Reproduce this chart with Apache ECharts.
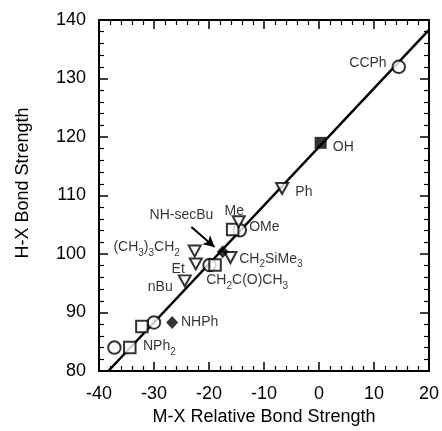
<!DOCTYPE html>
<html><head><meta charset="utf-8">
<script src="https://cdn.jsdelivr.net/npm/echarts@6/dist/echarts.min.js"></script>
<style>html,body{margin:0;padding:0;background:#fff}#c{width:442px;height:431px}</style>
</head><body><div id="c"></div>
<script>
// Data
const circleX = [14.5, -14.4, -19.9, -30.0, -37.2];
const circleY = [132.0, 104.05, 98.1, 88.3, 84.0];
const squareX = [-15.7, -18.9, -32.2, -34.4];
const squareY = [104.2, 98.1, 87.6, 84.0];
const triX = [-6.7, -14.6, -16.1, -22.6, -22.4, -24.4];
const triY = [111.2, 105.5, 99.4, 100.5, 98.3, 95.4];
const fsqX = [0.3];
const fsqY = [119.0];
const diaX = [-17.5, -26.7];
const diaY = [100.4, 88.3];
const fitX = [-38.3, 20];
const fitY = [80, 138.3];
const arrowX = [-23.2, -19.0];
const arrowY = [104.6, 101.2];
const labelText = ['CCPh', 'OH', 'Ph', 'Me', 'OMe', 'NH-secBu', '(CH{s|3}){s|3}CH{s|2}', 'Et', 'nBu', 'CH{s|2}SiMe{s|3}', 'CH{s|2}C(O)CH{s|3}', 'NHPh', 'NPh{s|2}'];
const labelX = [12.3, 2.5, -4.3, -15.4, -12.7, -25.0, -25.3, -24.4, -26.6, -14.5, -20.5, -25.1, -32.0];
const labelY = [132.7, 118.2, 110.5, 107.3, 104.6, 106.6, 101.2, 97.4, 94.4, 99.2, 95.5, 88.4, 84.2];
const labelAlign = ['right', 'left', 'left', 'center', 'left', 'center', 'right', 'right', 'right', 'left', 'left', 'left', 'left'];
const xTicks = {min: -40, max: 20, interval: 10};
const yTicks = {min: 80, max: 140, interval: 10};
const xTitle = 'M-X Relative Bond Strength';
const yTitle = 'H-X Bond Strength';

const FONT = "'Liberation Sans', Arial, Helvetica, sans-serif";
const zip = (a, b) => a.map((v, i) => [v, b[i]]);

function axisCommon(showLabel, margin) {
  return {
    axisLine: {show: true, onZero: false, lineStyle: {color: '#000', width: 2}},
    axisTick: {show: true, inside: true, length: 9, lineStyle: {color: '#000', width: 1.5}},
    minorTick: {show: true, splitNumber: 5, length: 5, lineStyle: {color: '#000', width: 1.2}},
    splitLine: {show: false},
    axisLabel: {show: showLabel, color: '#000', fontSize: 18, fontFamily: FONT, margin: margin || 12},
  };
}

const markerBase = {type: 'scatter', z: 5, itemStyle: {color: '#fff', borderColor: '#000', borderWidth: 2}};

const option = {
  animation: false,
  backgroundColor: '#fff',
  grid: {left: 99, right: 11, top: 20, bottom: 60},
  graphic: [{type: 'text', x: 23, y: 183, rotation: Math.PI / 2,
    style: {text: yTitle, fill: '#000', fontSize: 18, fontFamily: FONT, align: 'center', verticalAlign: 'middle'}}],
  xAxis: [
    Object.assign({type: 'value', position: 'bottom', min: xTicks.min, max: xTicks.max, interval: xTicks.interval,
      name: xTitle, nameLocation: 'middle', nameGap: 37,
      nameTextStyle: {color: '#000', fontSize: 18, fontFamily: FONT}}, axisCommon(true, 14)),
    Object.assign({type: 'value', position: 'top', min: xTicks.min, max: xTicks.max, interval: xTicks.interval}, axisCommon(false))
  ],
  yAxis: [
    Object.assign({type: 'value', position: 'left', min: yTicks.min, max: yTicks.max, interval: yTicks.interval}, axisCommon(true, 13)),
    Object.assign({type: 'value', position: 'right', min: yTicks.min, max: yTicks.max, interval: yTicks.interval}, axisCommon(false))
  ],
  series: [
    {type: 'line', data: zip(fitX, fitY), symbol: 'none', z: 2, lineStyle: {color: '#000', width: 2.5}},
    {type: 'line', data: zip(arrowX, arrowY), symbol: 'none', z: 3, lineStyle: {width: 0},
      markLine: {silent: true, symbol: ['none', 'arrow'], symbolSize: [9, 11], label: {show: false},
        lineStyle: {color: '#000', width: 2, type: 'solid'},
        data: [[{coord: [arrowX[0], arrowY[0]]}, {coord: [arrowX[1], arrowY[1]]}]]}},
    Object.assign({}, markerBase, {data: zip(circleX, circleY), symbol: 'circle', symbolSize: 12.5}),
    Object.assign({}, markerBase, {data: zip(squareX, squareY), symbol: 'rect', symbolSize: 11.5}),
    Object.assign({}, markerBase, {data: zip(triX, triY), symbol: 'triangle', symbolRotate: 180, symbolSize: [12, 11]}),
    {type: 'scatter', z: 6, data: zip(fsqX, fsqY), symbol: 'rect', symbolSize: 12, itemStyle: {color: '#000'}},
    {type: 'scatter', z: 6, data: zip(diaX, diaY), symbol: 'diamond', symbolSize: [12, 13], itemStyle: {color: '#000'}},
    {type: 'scatter', z: 7, symbolSize: 0, silent: true,
      data: labelText.map((t, i) => ({value: [labelX[i], labelY[i]],
        label: {show: true, formatter: t, position: 'inside', align: labelAlign[i], verticalAlign: 'middle',
          color: '#000', fontSize: 14, fontFamily: FONT,
          rich: {s: {fontSize: 10, fontFamily: FONT, color: '#000', padding: [12, 0, 0, 0]}}}}))}
  ]
};
echarts.init(document.getElementById('c'), null, {renderer: 'canvas'}).setOption(option);
</script></body></html>
